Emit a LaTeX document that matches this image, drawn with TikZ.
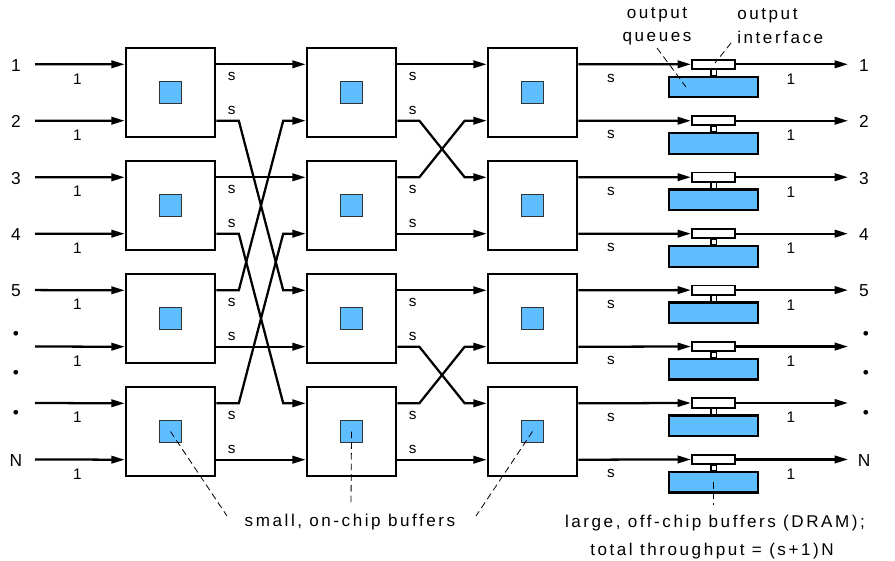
\documentclass[tikz,border=0pt]{standalone}
\usepackage{fontspec}
\setmainfont{Liberation Sans}
\newfontfamily\spacedfont[LetterSpace=15]{Liberation Sans}
\usetikzlibrary{arrows.meta,calc}
\definecolor{bufblue}{RGB}{95,190,255}
\begin{document}
\begin{tikzpicture}[x=0.75pt,y=-0.75pt,
  wire/.style={line width=1.7pt},
  link/.style={wire,-{Triangle[length=10pt,width=5.6pt]}},
  switchbox/.style={draw,line width=1.7pt,fill=white,minimum size=67pt,inner sep=0pt},
  chipbuf/.style={draw=black!80,line width=0.7pt,fill=bufblue,minimum size=16.5pt,inner sep=0pt},
  iface/.style={draw,line width=1.4pt,fill=white,minimum width=32.5pt,minimum height=7pt,inner sep=0pt},
  queue/.style={draw,line width=1.7pt,fill=bufblue,minimum width=67pt,minimum height=15.5pt,inner sep=0pt},
  portlbl/.style={font=\fontsize{13}{15}\selectfont,inner sep=0pt},
  ratelbl/.style={font=\fontsize{11.5}{13}\selectfont,inner sep=0pt},
  note/.style={font=\spacedfont\fontsize{12.8}{17.5}\selectfont,inner sep=0pt},
  leader/.style={line width=0.6pt,dash pattern=on 5pt off 3pt},
  dotlbl/.style={font=\fontsize{13}{13}\selectfont,inner sep=0pt}
]
\useasboundingbox (0,0) rectangle (895,560);

% three columns of 2x2 switch elements, each with a small on-chip buffer
\foreach \s/\x in {1/170.5,2/351.5,3/532.5}{
  \foreach \k in {1,...,4}{
    \pgfmathsetmacro{\yc}{92.5+113*(\k-1)}
    \pgfmathtruncatemacro{\ru}{2*\k-1}
    \pgfmathtruncatemacro{\rl}{2*\k}
    \node[switchbox] (b\s\k) at (\x,\yc) {};
    \node[chipbuf] (c\s\k) at (b\s\k.center) {};
    \coordinate (w\s-\ru) at ($(b\s\k.west)+(0,-28.2)$);
    \coordinate (w\s-\rl) at ($(b\s\k.west)+(0,28.2)$);
    \coordinate (e\s-\ru) at ($(b\s\k.east)+(0,-28.2)$);
    \coordinate (e\s-\rl) at ($(b\s\k.east)+(0,28.2)$);
  }
}

% input ports, output interfaces and off-chip queues, one per line
\foreach \r in {1,...,8}{
  \pgfmathsetmacro{\ry}{64.3+56.45*(\r-1)}
  \coordinate (src\r) at (35,\ry);
  \coordinate (dst\r) at (848,\ry);
  \node[iface] (if\r) at (713.5,\ry) {};
  \node[queue] (q\r) at (713.5,\ry+22.7) {};
  \draw[line width=0.9pt,fill=white] ($(if\r.south)+(-2.6,0)$) rectangle ($(q\r.north)+(2.6,0)$);
  \draw[link] (src\r) -- (w1-\r);
  \node[ratelbl] (in1-\r) at (77.5,\ry+14.5) {1};
  \draw[link] (e3-\r) -- (if\r.west);
  \node[ratelbl] (s3-\r) at (611,\ry+14) {s};
  \draw[link] (if\r.east) -- (dst\r);
  \node[ratelbl] (out1-\r) at (791,\ry+14.7) {1};
}

% port numbers
\foreach \r/\t in {1/1,2/2,3/3,4/4,5/5,8/N}{
  \pgfmathsetmacro{\ry}{64.3+56.45*(\r-1)}
  \node[portlbl] (inlbl\r) at (16,\ry+1) {\t};
  \node[portlbl] (outlbl\r) at (864,\ry+1) {\t};
}
\foreach \d/\dy in {1/335,2/374,3/414}{
  \node[dotlbl] (indot\d) at (16,\dy) {\textbullet};
  \node[dotlbl] (outdot\d) at (866,\dy) {\textbullet};
}

% rate labels on the inter-stage lines
\foreach \s in {1,2}{
  \foreach \r in {1,3,5,7}{
    \node[ratelbl] (sl\s-\r) at ($(e\s-\r)+(15.5,12)$) {s};
  }
  \foreach \r in {2,4,6,8}{
    \node[ratelbl] (sl\s-\r) at ($(e\s-\r)+(15.5,-10.5)$) {s};
  }
}

% stage 1 -> stage 2 wiring
\foreach \r in {1,3,6,8}
  \draw[link] (e1-\r) -- (w2-\r);
\foreach \a/\b in {2/5,4/7,5/2,7/4}
  \draw[link] (e1-\a) -- ++(22.5,0) -- ($(w2-\b)+(-22.5,0)$) -- (w2-\b);

% stage 2 -> stage 3 wiring
\foreach \r in {1,4,5,8}
  \draw[link] (e2-\r) -- (w3-\r);
\foreach \a/\b in {2/3,3/2,6/7,7/6}
  \draw[link] (e2-\a) -- ++(22,0) -- ($(w3-\b)+(-22,0)$) -- (w3-\b);

% annotations
\node[note,align=center] (oq) at (657,26) {output\\queues};
\node[note,align=left,anchor=west] (oi) at (737,26) {output\\interface};
\coordinate (oqend) at (686,87);
\coordinate (oqstart) at (657,48);
\draw[leader] (oqstart) -- (oqend);
\coordinate (oistart) at (731,43);
\coordinate (oiend) at (715,63);
\draw[leader] (oistart) -- (oiend);

\node[note] (onchip) at (350,522) {small, on-chip buffers};
\coordinate (l1) at (227,516);
\coordinate (l2) at (351,505);
\coordinate (l3) at (476,516);
\draw[leader] (c14.center) -- (l1);
\draw[leader] (c24.center) -- (l2);
\draw[leader] (c34.center) -- (l3);

\node[note] (offchip) at (715,523) {large, off-chip buffers (DRAM);};
\node[note] (thru) at (712,551) {total throughput = (s+1)N};
\coordinate (l4) at (713.5,505);
\draw[leader] (q8.center) -- (l4);
\end{tikzpicture}
\end{document}
